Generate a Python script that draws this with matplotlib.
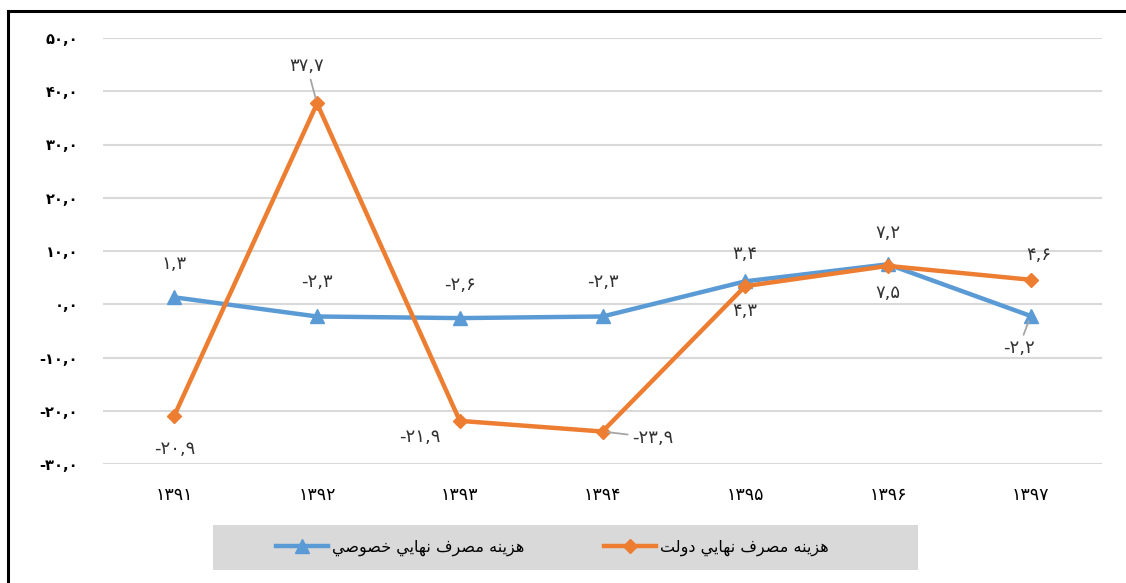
import matplotlib
matplotlib.use('Agg')
import matplotlib.pyplot as plt
from matplotlib.lines import Line2D
from matplotlib.patches import Rectangle
import numpy as np

plt.rcParams['font.family'] = ['DejaVu Sans']

years = [1391, 1392, 1393, 1394, 1395, 1396, 1397]
private = [1.3, -2.3, -2.6, -2.3, 4.3, 7.5, -2.2]
government = [-20.9, 37.7, -21.9, -23.9, 3.4, 7.2, 4.6]
name_private = 'هزينه مصرف نهايي خصوصي'
name_government = 'هزينه مصرف نهايي دولت'
y_ticks = [-30, -20, -10, 0, 10, 20, 30, 40, 50]

# --- persian helpers (matplotlib has no bidi / arabic shaping) ---
FA_DIGITS = '۰۱۲۳۴۵۶۷۸۹'


def fa_num(v):
    s = f'{v:.1f}'
    out = ''
    for ch in s:
        if ch.isdigit():
            out += FA_DIGITS[int(ch)]
        elif ch == '.':
            out += ','
        else:
            out += ch
    return out


# base codepoint in presentation forms B: +0 iso, +1 fin, +2 ini, +3 med
FORMS = {
    'ا': (0xFE8D, False), 'ت': (0xFE95, True), 'خ': (0xFEA5, True),
    'د': (0xFEA9, False), 'ر': (0xFEAD, False), 'ز': (0xFEAF, False),
    'ص': (0xFEB9, True), 'ف': (0xFED1, True), 'ل': (0xFEDD, True),
    'م': (0xFEE1, True), 'ن': (0xFEE5, True), 'ه': (0xFEE9, True),
    'و': (0xFEED, False), 'ي': (0xFEF1, True),
}


def shape(text):
    res = []
    for i, ch in enumerate(text):
        if ch not in FORMS:
            res.append(ch)
            continue
        base, dual = FORMS[ch]
        prev = text[i - 1] if i > 0 else ''
        nxt = text[i + 1] if i + 1 < len(text) else ''
        jp = prev in FORMS and FORMS[prev][1]
        jn = dual and nxt in FORMS
        if jp and jn:
            off = 3
        elif jp:
            off = 1
        elif jn:
            off = 2
        else:
            off = 0
        res.append(chr(base + off))
    return ''.join(res)[::-1]


blue = '#5b9bd5'
orange = '#ed7d31'

fig = plt.figure(figsize=(11.26, 5.83), dpi=100)
ax = fig.add_axes([103 / 1126, 1 - 464 / 583, 999 / 1126, 426 / 583])

x = np.arange(len(years))
ax.plot(x, private, color=blue, lw=3.2, marker='^', markersize=10, label=shape(name_private), zorder=3)
ax.plot(x, government, color=orange, lw=3.2, marker='D', markersize=7.5, label=shape(name_government), zorder=4)

# label offsets in pixels, leader line flag
off_private = [(0, 33), (0, 34), (0, 33), (0, 34), (0, -30), (0, -29), (-12, -32)]
off_government = [(0, -33), (-10, 37), (-40, -16), (50, -6), (0, 32), (0, 33), (8, 25)]
lead_private = [False, False, False, False, False, False, True]
lead_government = [False, True, False, True, False, False, False]

for vals, offs, leads in [(private, off_private, lead_private),
                          (government, off_government, lead_government)]:
    for xi, v, (dx, dy), ld in zip(x, vals, offs, leads):
        ap = dict(arrowstyle='-', color='#a6a6a6', lw=1.3, shrinkA=1, shrinkB=4) if ld else None
        ax.annotate(fa_num(v), (xi, v), xytext=(dx, dy), textcoords='offset pixels',
                    ha='center', va='center', fontsize=13, color='#333333',
                    arrowprops=ap, zorder=5)

ax.set_xlim(-0.5, len(years) - 0.5)
ax.set_ylim(-30, 50)
ax.set_yticks(y_ticks)
ax.set_yticklabels([fa_num(t) for t in y_ticks], fontsize=10.5, fontweight='bold')
ax.set_xticks(x)
ax.set_xticklabels([''.join(FA_DIGITS[int(c)] for c in str(yr)) for yr in years], fontsize=12.5)
ax.tick_params(length=0)
ax.tick_params(axis='y', pad=18)
ax.tick_params(axis='x', pad=16)
ax.grid(axis='y', color='#d9d9d9', lw=1.5)
ax.set_axisbelow(True)
for s in ax.spines.values():
    s.set_visible(False)

# legend band
fig.patches.append(Rectangle((213 / 1126, 1 - 570 / 583), 705 / 1126, 45 / 583,
                             transform=fig.transFigure, facecolor='#d9d9d9', edgecolor='none', zorder=0))
fig.legend(loc='center', bbox_to_anchor=(552 / 1126, 1 - 548 / 583), ncol=2, frameon=False,
           fontsize=11.5, handlelength=3.3, columnspacing=5, handletextpad=0.2)

# outer frame (left and top edges)
fig.add_artist(Line2D([8 / 1126, 8 / 1126], [0, 1 - 11 / 583], transform=fig.transFigure, color='black', lw=2.2))
fig.add_artist(Line2D([8 / 1126, 1.01], [1 - 11 / 583, 1 - 11 / 583], transform=fig.transFigure, color='black', lw=2.2))

fig.savefig('out.png', dpi=100)
